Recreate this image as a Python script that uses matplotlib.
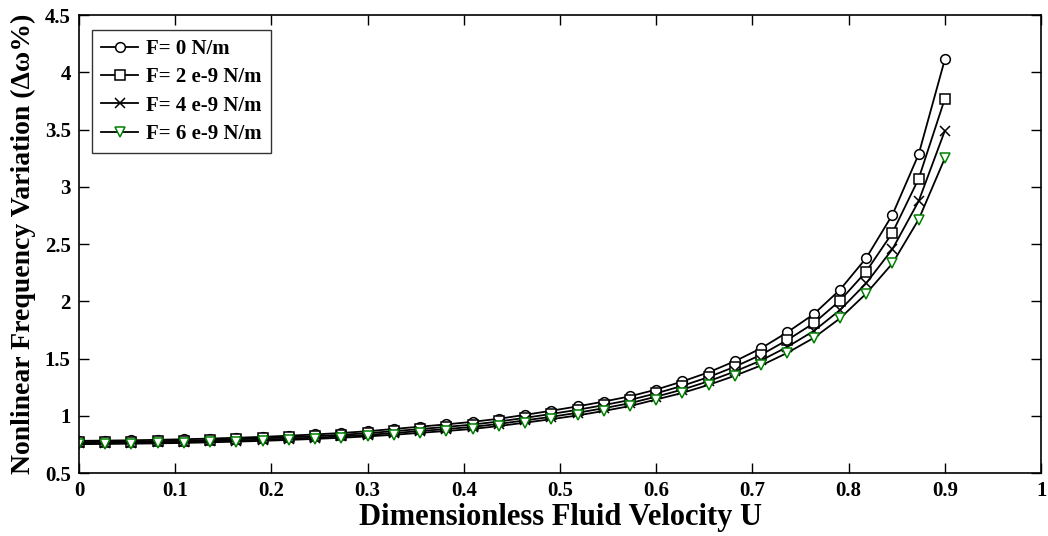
import matplotlib
matplotlib.use('Agg')
import matplotlib.pyplot as plt

# 34 samples of the dimensionless fluid velocity, 0 .. 0.9
velocity = [i * 0.9 / 33 for i in range(34)]

freq_f0 = [0.781, 0.783, 0.786, 0.790, 0.795, 0.801, 0.808, 0.816, 0.826, 0.837,
           0.850, 0.865, 0.885, 0.905, 0.925, 0.947, 0.974, 1.008, 1.044, 1.082,
           1.124, 1.170, 1.229, 1.300, 1.380, 1.477, 1.590, 1.730, 1.887, 2.100,
           2.377, 2.755, 3.283, 4.113]
freq_f2 = [0.770, 0.772, 0.775, 0.778, 0.783, 0.788, 0.795, 0.803, 0.812, 0.822,
           0.834, 0.848, 0.866, 0.884, 0.903, 0.923, 0.950, 0.982, 1.016, 1.052,
           1.093, 1.138, 1.196, 1.262, 1.338, 1.429, 1.533, 1.662, 1.808, 2.005,
           2.259, 2.598, 3.070, 3.770]
freq_f4 = [0.760, 0.762, 0.765, 0.768, 0.772, 0.778, 0.784, 0.791, 0.800, 0.809,
           0.820, 0.833, 0.849, 0.867, 0.884, 0.903, 0.929, 0.960, 0.991, 1.026,
           1.066, 1.110, 1.167, 1.229, 1.302, 1.387, 1.484, 1.602, 1.740, 1.923,
           2.157, 2.455, 2.874, 3.490]
freq_f6 = [0.752, 0.754, 0.756, 0.759, 0.763, 0.768, 0.774, 0.781, 0.789, 0.798,
           0.808, 0.820, 0.834, 0.851, 0.867, 0.885, 0.910, 0.940, 0.970, 1.003,
           1.042, 1.085, 1.142, 1.200, 1.270, 1.350, 1.440, 1.550, 1.680, 1.850,
           2.067, 2.330, 2.714, 3.250]

labels = ['F= 0 N/m', 'F= 2 e-9 N/m', 'F= 4 e-9 N/m', 'F= 6 e-9 N/m']
markers = ['o', 's', 'x', 'v']
marker_colors = ['black', 'black', 'black', '#008000']

plt.rcParams['font.family'] = ['Liberation Serif', 'DejaVu Serif']
plt.rcParams['font.weight'] = 'bold'

fig = plt.figure(figsize=(10.48, 5.36), dpi=100)
ax = fig.add_axes([0.0754, 0.1175, 0.918, 0.8545])

for series, label, marker, mcolor in zip((freq_f0, freq_f2, freq_f4, freq_f6),
                                         labels, markers, marker_colors):
    ax.plot(velocity, series, color='black', linewidth=1.3, marker=marker,
            markersize=7, markeredgecolor=mcolor, markerfacecolor='white',
            markeredgewidth=1.1, label=label)

ax.set_xlim(0, 1)
ax.set_ylim(0.5, 4.5)
ax.set_xticks([0, 0.1, 0.2, 0.3, 0.4, 0.5, 0.6, 0.7, 0.8, 0.9, 1])
ax.set_xticklabels(['0', '0.1', '0.2', '0.3', '0.4', '0.5', '0.6', '0.7', '0.8', '0.9', '1'])
ax.set_yticks([0.5, 1, 1.5, 2, 2.5, 3, 3.5, 4, 4.5])
ax.set_yticklabels(['0.5', '1', '1.5', '2', '2.5', '3', '3.5', '4', '4.5'])
ax.tick_params(direction='in', length=7, width=1, top=True, right=True,
               labelsize=15, pad=6)
for spine in ax.spines.values():
    spine.set_linewidth(1.2)

ax.set_xlabel('Dimensionless Fluid Velocity U', fontsize=22, fontweight='bold', labelpad=1)
ax.set_ylabel('Nonlinear Frequency Variation (\u0394\u03c9%)', fontsize=20,
              fontweight='bold', labelpad=6)

leg = ax.legend(loc='upper left', bbox_to_anchor=(0.013, 0.968), fontsize=15,
                frameon=True, fancybox=False, edgecolor='black', handlelength=1.8,
                borderpad=0.45, labelspacing=0.4, handletextpad=0.35,
                borderaxespad=0.0)
leg.get_frame().set_linewidth(1.0)

fig.savefig('out.png', dpi=100)
